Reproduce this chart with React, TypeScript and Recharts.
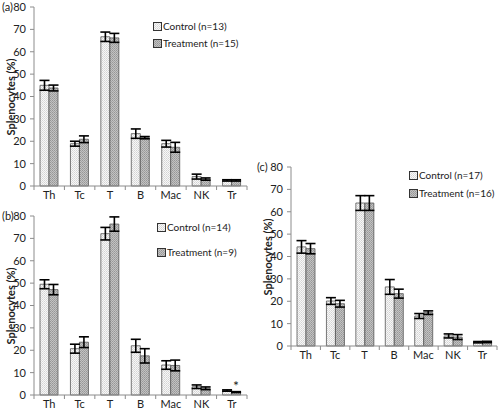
import React from 'react'
import { BarChart, Bar, XAxis, YAxis, ErrorBar, LabelList } from 'recharts'

const cells = ['Th', 'Tc', 'T', 'B', 'Mac', 'NK', 'Tr']
const yTicks = [0, 10, 20, 30, 40, 50, 60, 70, 80]

// (a)
const aControl = [45, 18.9, 66.7, 23.4, 18.9, 4.2, 2.5]
const aControlErr = [2.2, 1.1, 2.1, 2.1, 1.5, 1.1, 0.3]
const aTreat = [43.8, 20.9, 66.2, 21.6, 17.3, 3.1, 2.5]
const aTreatErr = [1.3, 1.5, 2, 0.5, 2.2, 0.5, 0.3]

// (b)
const bControl = [49.5, 20.7, 72.1, 22, 13.4, 3.7, 2]
const bControlErr = [2, 2, 2.8, 2.9, 1.9, 0.8, 0.3]
const bTreat = [47.1, 23.6, 76.4, 17.5, 13.2, 3, 1.3]
const bTreatErr = [2.3, 2.4, 3.2, 3.2, 2.4, 0.6, 0.2]
const bSig = ['', '', '', '', '', '', '*']

// (c)
const cControl = [44.3, 20.1, 63.9, 26.4, 13.4, 4.5, 1.7]
const cControlErr = [2.8, 1.5, 3.3, 3.3, 1.1, 0.9, 0.3]
const cTreat = [43.5, 18.9, 63.9, 23.4, 14.9, 4, 1.8]
const cTreatErr = [2.3, 1.5, 3.3, 2, 0.8, 1.1, 0.3]

const FONT = 'Lato, "Open Sans", sans-serif'
const AXIS = '#8c8c8c'

const build = (ctrl: number[], ctrlErr: number[], trt: number[], trtErr: number[], sig?: string[]) =>
  cells.map((c, i) => ({
    cell: c,
    control: ctrl[i],
    controlErr: ctrlErr[i],
    treat: trt[i],
    treatErr: trtErr[i],
    sig: sig ? sig[i] : '',
  }))

const Swatch = ({ id }: { id: string }) => (
  <svg width={9} height={9} style={{ display: 'block' }}>
    <rect x={0.5} y={0.5} width={8} height={8} fill={`url(#${id})`} stroke="#333" strokeWidth={1} />
  </svg>
)

interface PanelProps {
  id: string
  letter: string
  data: any[]
  nControl: number
  nTreat: number
  left: number
  top: number
  width: number
  legendLeft: number
  legendTop: number
  legendGap: number
}

function Panel({ id, letter, data, nControl, nTreat, left, top, width, legendLeft, legendTop, legendGap }: PanelProps) {
  const yAxisW = 34
  const band = (width - yAxisW - 3) / cells.length

  const XTick = ({ x, y, payload }: any) => (
    <g>
      <line x1={x + band / 2} x2={x + band / 2} y1={y - 8} y2={y - 4} stroke={AXIS} />
      {payload.index === 0 && <line x1={x - band / 2} x2={x - band / 2} y1={y - 8} y2={y - 4} stroke={AXIS} />}
      <text x={x} y={y + 5} textAnchor="middle" fontSize={11} fill="#222" fontFamily={FONT}>
        {payload.value}
      </text>
    </g>
  )

  return (
    <div style={{ position: 'absolute', left, top, width, height: 200 }}>
      <BarChart
        width={width}
        height={200}
        data={data}
        margin={{ top: 7, right: 3, left: 0, bottom: 0 }}
        barSize={9}
        barGap={0}
      >
        <defs>
          <pattern id={`${id}-ctrl`} width={2} height={2} patternUnits="userSpaceOnUse">
            <rect width={2} height={2} fill="#f7f7f7" />
            <rect width={1} height={1} fill="#d4d4d4" />
            <rect x={1} y={1} width={1} height={1} fill="#dedede" />
          </pattern>
          <pattern id={`${id}-trt`} width={2} height={2} patternUnits="userSpaceOnUse">
            <rect width={2} height={2} fill="#c2c2c2" />
            <rect width={1} height={1} fill="#979797" />
            <rect x={1} y={1} width={1} height={1} fill="#a3a3a3" />
          </pattern>
        </defs>
        <XAxis
          dataKey="cell"
          height={14}
          stroke={AXIS}
          tickLine={false}
          tick={<XTick />}
          interval={0}
        />
        <YAxis
          width={yAxisW}
          domain={[0, 80]}
          ticks={yTicks}
          stroke={AXIS}
          tickSize={4}
          tickMargin={4}
          tick={{ fontSize: 11, fill: '#222', fontFamily: FONT }}
        />
        <Bar dataKey="control" fill={`url(#${id}-ctrl)`} stroke="#555" strokeWidth={0.8} isAnimationActive={false}>
          <ErrorBar dataKey="controlErr" width={5} stroke="#000" strokeWidth={1.6} />
        </Bar>
        <Bar dataKey="treat" fill={`url(#${id}-trt)`} stroke="#555" strokeWidth={0.8} isAnimationActive={false}>
          <ErrorBar dataKey="treatErr" width={5} stroke="#000" strokeWidth={1.6} />
          <LabelList dataKey="sig" position="top" offset={1} fontSize={14} fill="#222" fontFamily={FONT} />
        </Bar>
      </BarChart>

      {/* legend */}
      <div
        style={{
          position: 'absolute',
          left: legendLeft,
          top: legendTop,
          fontFamily: FONT,
          fontSize: 10,
          color: '#222',
          lineHeight: '12px',
          whiteSpace: 'nowrap',
        }}
      >
        <div style={{ display: 'flex', alignItems: 'center', gap: 1 }}>
          <Swatch id={`${id}-ctrl`} />
          <span>Control (n={nControl})</span>
        </div>
        <div style={{ display: 'flex', alignItems: 'center', gap: 1, marginTop: legendGap }}>
          <Swatch id={`${id}-trt`} />
          <span>Treatment (n={nTreat})</span>
        </div>
      </div>

      <div
        style={{
          position: 'absolute',
          left: 10,
          top: 97,
          transform: 'translate(-50%, -50%) rotate(-90deg)',
          whiteSpace: 'nowrap',
          fontFamily: FONT,
          fontWeight: 700,
          fontSize: 11,
          color: '#222',
        }}
      >
        Splenocytes (%)
      </div>
      <div
        style={{
          position: 'absolute',
          left: letter === '(c)' ? 0 : 2,
          top: 0,
          fontFamily: FONT,
          fontSize: 11,
          lineHeight: '13px',
          color: '#222',
        }}
      >
        {letter}
      </div>
    </div>
  )
}

export default function App() {
  return (
    <div style={{ position: 'absolute', left: 0, top: 0, width: 500, height: 413, background: '#fff', overflow: 'hidden' }}>
      <Panel
        id="pa"
        letter="(a)"
        data={build(aControl, aControlErr, aTreat, aTreatErr)}
        nControl={13}
        nTreat={15}
        left={0}
        top={0}
        width={250}
        legendLeft={153}
        legendTop={20}
        legendGap={5}
      />
      <Panel
        id="pb"
        letter="(b)"
        data={build(bControl, bControlErr, bTreat, bTreatErr, bSig)}
        nControl={14}
        nTreat={9}
        left={0}
        top={209}
        width={250}
        legendLeft={157}
        legendTop={12}
        legendGap={13}
      />
      <Panel
        id="pc"
        letter="(c)"
        data={build(cControl, cControlErr, cTreat, cTreatErr)}
        nControl={17}
        nTreat={16}
        left={257}
        top={160}
        width={243}
        legendLeft={152}
        legendTop={9}
        legendGap={6}
      />
    </div>
  )
}
